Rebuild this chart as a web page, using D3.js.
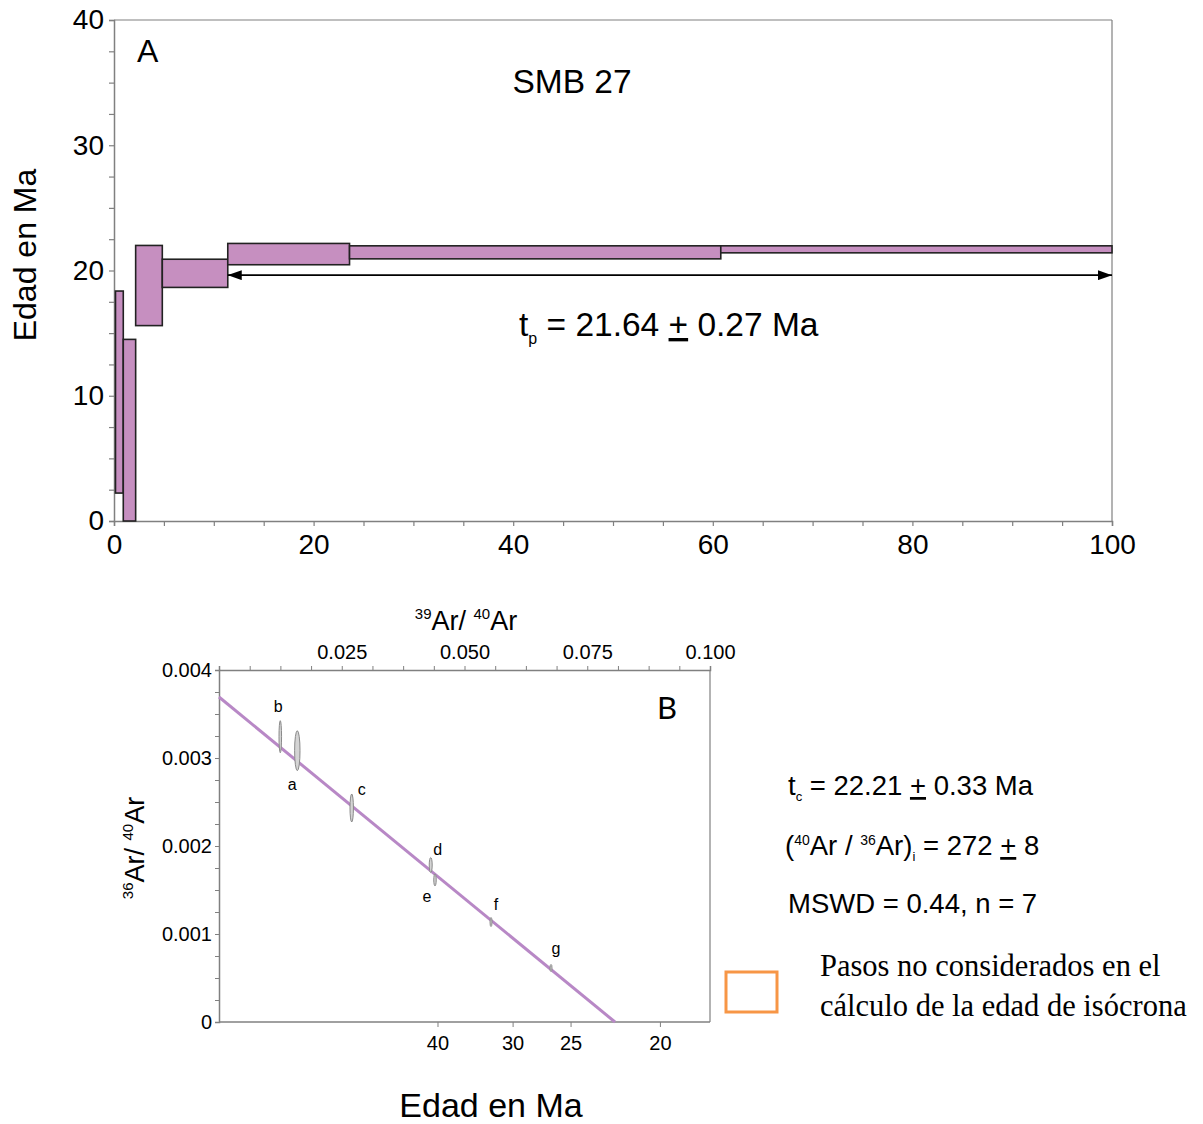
<!DOCTYPE html>
<html>
<head>
<meta charset="utf-8">
<script src="https://cdn.jsdelivr.net/npm/d3@7"></script>
<style>
  html, body { margin: 0; padding: 0; background: #fff; }
  svg { display: block; }
  text { font-family: "Liberation Sans", Arial, sans-serif; fill: #000; }
</style>
</head>
<body>
<svg id="chart" width="1203" height="1124"></svg>
<script>
// ---------- Data: panel A (age spectrum) ----------
const stepEdges = [0.15, 0.93, 2.17, 4.84, 11.4, 23.6, 60.8, 100];   // cumulative %39Ar
const stepLow   = [2.23, 0, 15.6, 18.65, 20.46, 20.93, 21.41];          // Ma
const stepHigh  = [18.36, 14.5, 22.0, 20.9, 22.16, 21.97, 21.97];       // Ma
const plateauRange = [11.4, 100];
const plateauArrowAge = 19.63;
const ageTicksA = [0, 10, 20, 30, 40];
const xTicksA = [0, 20, 40, 60, 80, 100];

// ---------- Data: panel B (isochron) ----------
const isoLabels = ["b", "a", "c", "d", "e", "f", "g"];
const isoX  = [0.01248, 0.01595, 0.02703, 0.04312, 0.04399, 0.0554, 0.06762];  // 39Ar/40Ar
const isoY  = [0.003242, 0.003083, 0.002432, 0.001784, 0.001614, 0.001136, 0.000614]; // 36Ar/40Ar
const isoSx = [0.00026, 0.00055, 0.00035, 0.0003, 0.00025, 0.0002, 0.0002];
const isoSy = [0.000182, 0.000227, 0.000159, 0.0000852, 0.0000682, 0.000051, 0.00004];
const isochronYIntercept = 0.003693;
const isochronXIntercept = 0.08065;
const topTicksB = [0.025, 0.050, 0.075, 0.100];
const leftTicksB = [0, 0.001, 0.002, 0.003, 0.004];
const ageTickLabelsB = ["40", "30", "25", "20"];
const ageTickPosB = [0.0446, 0.0599, 0.0717, 0.0899];

// ---------- Layout (not data) ----------
const labelOffsets = { b: [-2, -30], a: [-5, 34], c: [10, -19], d: [7, -16], e: [-8, 16], f: [5, -18], g: [5, -20] };
const purple = "#c68fc0";
const axisGray = "#808080";

const svg = d3.select("#chart");

// ================= PANEL A =================
const A = { left: 114, right: 1112, top: 20, bottom: 521 };
const xA = d3.scaleLinear().domain([0, 100]).range([A.left, A.right]);
const yA = d3.scaleLinear().domain([0, 40]).range([A.bottom, A.top]);
const gA = svg.append("g");

gA.append("line").attr("x1", A.left).attr("x2", A.right).attr("y1", A.top).attr("y2", A.top).attr("stroke", axisGray).attr("stroke-width", 1.2);
gA.append("line").attr("x1", A.right).attr("x2", A.right).attr("y1", A.top).attr("y2", A.bottom).attr("stroke", axisGray).attr("stroke-width", 1.2);

const yAxisA = d3.axisLeft(yA).tickValues(d3.range(0, 40.01, 2.5)).tickSize(5).tickFormat(d => ageTicksA.includes(d) ? d : "");
const yAxA = gA.append("g").attr("transform", `translate(${A.left},0)`).call(yAxisA);
const xAxisA = d3.axisBottom(xA).tickValues(d3.range(0, 100.01, 5)).tickSize(5).tickFormat(d => xTicksA.includes(d) ? d : "");
const xAxA = gA.append("g").attr("transform", `translate(0,${A.bottom})`).call(xAxisA);
[yAxA, xAxA].forEach(ax => {
  ax.select(".domain").attr("stroke", axisGray).attr("stroke-width", 1.5);
  ax.selectAll(".tick line").attr("stroke", axisGray).attr("stroke-width", 1.2);
  ax.selectAll(".tick text").style("font-family", "Liberation Sans, Arial, sans-serif").style("font-size", "28px").attr("fill", "#000");
});
yAxA.selectAll(".tick text").attr("x", -10);
xAxA.selectAll(".tick text").attr("y", 13);

const stepIdx = d3.range(stepLow.length);
gA.append("g").selectAll("rect").data(stepIdx).join("rect")
  .attr("x", i => xA(stepEdges[i]))
  .attr("width", i => xA(stepEdges[i + 1]) - xA(stepEdges[i]))
  .attr("y", i => yA(stepHigh[i]))
  .attr("height", i => yA(stepLow[i]) - yA(stepHigh[i]))
  .attr("fill", purple).attr("stroke", "#222").attr("stroke-width", 1.6);

const defs = svg.append("defs");
defs.append("marker").attr("id", "arrEnd").attr("viewBox", "0 0 14 10").attr("refX", 14).attr("refY", 5)
  .attr("markerWidth", 14).attr("markerHeight", 10).attr("markerUnits", "userSpaceOnUse").attr("orient", "auto")
  .append("path").attr("d", "M0,0 L14,5 L0,10 Z").attr("fill", "#000");
defs.append("marker").attr("id", "arrStart").attr("viewBox", "0 0 14 10").attr("refX", 0).attr("refY", 5)
  .attr("markerWidth", 14).attr("markerHeight", 10).attr("markerUnits", "userSpaceOnUse").attr("orient", "auto")
  .append("path").attr("d", "M14,0 L0,5 L14,10 Z").attr("fill", "#000");
gA.append("line")
  .attr("x1", xA(plateauRange[0])).attr("x2", xA(plateauRange[1]))
  .attr("y1", yA(plateauArrowAge)).attr("y2", yA(plateauArrowAge))
  .attr("stroke", "#000").attr("stroke-width", 1.8)
  .attr("marker-start", "url(#arrStart)").attr("marker-end", "url(#arrEnd)");

gA.append("text").attr("x", 137).attr("y", 62).style("font-size", "32px").text("A");
gA.append("text").attr("x", 572).attr("y", 93).attr("text-anchor", "middle").style("font-size", "33.5px").text("SMB 27");
const tp = gA.append("text").attr("x", 519).attr("y", 336).style("font-size", "33.5px");
tp.append("tspan").text("t");
tp.append("tspan").attr("dy", 8).style("font-size", "16px").text("p");
tp.append("tspan").attr("dy", -8).text(" = 21.64 ");
tp.append("tspan").style("text-decoration", "underline").text("+");
tp.append("tspan").text(" 0.27 Ma");
gA.append("text").attr("transform", "translate(36,255) rotate(-90)").attr("text-anchor", "middle").style("font-size", "32px").text("Edad en Ma");

// ================= PANEL B =================
const B = { left: 219, right: 710, top: 670, bottom: 1022 };
const xB = d3.scaleLinear().domain([0, 0.1]).range([B.left, B.right]);
const yB = d3.scaleLinear().domain([0, 0.004]).range([B.bottom, B.top]);
const gB = svg.append("g");

gB.append("line").attr("x1", B.right).attr("x2", B.right).attr("y1", B.top).attr("y2", B.bottom).attr("stroke", axisGray).attr("stroke-width", 1.2);
gB.append("line").attr("x1", B.left).attr("x2", B.right).attr("y1", B.bottom).attr("y2", B.bottom).attr("stroke", axisGray).attr("stroke-width", 1.5);

const fmtB = d => leftTicksB.some(t => Math.abs(t - d) < 1e-9) ? (d === 0 ? "0" : d3.format(".3f")(d)) : "";
const yAxisB = d3.axisLeft(yB).tickValues(d3.range(0, 0.004001, 0.00025)).tickSize(4).tickFormat(fmtB);
const yAxB = gB.append("g").attr("transform", `translate(${B.left},0)`).call(yAxisB);
const topAxisB = d3.axisTop(xB).tickValues(d3.range(0, 0.100001, 0.00625)).tickSize(4)
  .tickFormat(d => topTicksB.some(t => Math.abs(t - d) < 1e-9) ? d3.format(".3f")(d) : "");
const topAxB = gB.append("g").attr("transform", `translate(0,${B.top})`).call(topAxisB);
[yAxB, topAxB].forEach(ax => {
  ax.select(".domain").attr("stroke", axisGray).attr("stroke-width", 1.5);
  ax.selectAll(".tick line").attr("stroke", axisGray).attr("stroke-width", 1);
  ax.selectAll(".tick text").style("font-family", "Liberation Sans, Arial, sans-serif").style("font-size", "20px").attr("fill", "#000");
});
yAxB.selectAll(".tick text").attr("x", -7);
topAxB.selectAll(".tick text").attr("y", -11);

const ageG = gB.append("g");
ageG.selectAll("line").data(ageTickPosB).join("line")
  .attr("x1", d => xB(d)).attr("x2", d => xB(d)).attr("y1", B.bottom).attr("y2", B.bottom + 5)
  .attr("stroke", axisGray).attr("stroke-width", 1);
ageG.selectAll("text").data(ageTickPosB).join("text")
  .attr("x", d => xB(d)).attr("y", B.bottom + 28).attr("text-anchor", "middle").style("font-size", "20px")
  .text((d, i) => ageTickLabelsB[i]);

gB.append("line")
  .attr("x1", xB(0)).attr("y1", yB(isochronYIntercept))
  .attr("x2", xB(isochronXIntercept)).attr("y2", yB(0))
  .attr("stroke", "#b888c6").attr("stroke-width", 3);

const isoIdx = d3.range(isoLabels.length);
gB.append("g").selectAll("ellipse").data(isoIdx).join("ellipse")
  .attr("cx", i => xB(isoX[i])).attr("cy", i => yB(isoY[i]))
  .attr("rx", i => xB(isoSx[i]) - xB(0)).attr("ry", i => yB(0) - yB(isoSy[i]))
  .attr("fill", "#d4d4d4").attr("stroke", "#8a8a8a").attr("stroke-width", 1);
gB.append("g").selectAll("text").data(isoIdx).join("text")
  .attr("x", i => xB(isoX[i]) + labelOffsets[isoLabels[i]][0])
  .attr("y", i => yB(isoY[i]) + labelOffsets[isoLabels[i]][1])
  .attr("dy", "0.35em").attr("text-anchor", "middle").style("font-size", "16px")
  .text(i => isoLabels[i]);

gB.append("text").attr("x", 667).attr("y", 719).attr("text-anchor", "middle")
  .style("font-family", "Lato, 'Open Sans', sans-serif").style("font-size", "31px").text("B");

const topTitle = gB.append("text").attr("x", 466).attr("y", 630).attr("text-anchor", "middle").style("font-size", "27px");
topTitle.append("tspan").attr("dy", -11).style("font-size", "15px").text("39");
topTitle.append("tspan").attr("dy", 11).text("Ar/ ");
topTitle.append("tspan").attr("dy", -11).style("font-size", "15px").text("40");
topTitle.append("tspan").attr("dy", 11).text("Ar");

const leftTitle = gB.append("text").attr("transform", "translate(144,848) rotate(-90)").attr("text-anchor", "middle").style("font-size", "27px");
leftTitle.append("tspan").attr("dy", -11).style("font-size", "15px").text("36");
leftTitle.append("tspan").attr("dy", 11).text("Ar/ ");
leftTitle.append("tspan").attr("dy", -11).style("font-size", "15px").text("40");
leftTitle.append("tspan").attr("dy", 11).text("Ar");

gB.append("text").attr("x", 491).attr("y", 1117).attr("text-anchor", "middle").style("font-size", "34px").text("Edad en Ma");

// ================= Right-side annotations =================
const gR = svg.append("g");
const t1 = gR.append("text").attr("x", 788).attr("y", 795).style("font-size", "27.5px");
t1.append("tspan").text("t");
t1.append("tspan").attr("dy", 6).style("font-size", "13px").text("c");
t1.append("tspan").attr("dy", -6).text(" = 22.21 ");
t1.append("tspan").style("text-decoration", "underline").text("+");
t1.append("tspan").text(" 0.33 Ma");

const t2 = gR.append("text").attr("x", 785).attr("y", 855).style("font-size", "27.5px");
t2.append("tspan").text("(");
t2.append("tspan").attr("dy", -10).style("font-size", "14px").text("40");
t2.append("tspan").attr("dy", 10).text("Ar / ");
t2.append("tspan").attr("dy", -10).style("font-size", "14px").text("36");
t2.append("tspan").attr("dy", 10).text("Ar)");
t2.append("tspan").attr("dy", 6).style("font-size", "13px").text("i");
t2.append("tspan").attr("dy", -6).text(" = 272 ");
t2.append("tspan").style("text-decoration", "underline").text("+");
t2.append("tspan").text(" 8");

gR.append("text").attr("x", 788).attr("y", 913).style("font-size", "27.5px").text("MSWD = 0.44, n = 7");

gR.append("rect").attr("x", 726).attr("y", 972).attr("width", 51).attr("height", 40)
  .attr("fill", "none").attr("stroke", "#f79646").attr("stroke-width", 3);
gR.append("text").attr("x", 820).attr("y", 976).style("font-family", "Liberation Serif, 'DejaVu Serif', serif").style("font-size", "30.5px").text("Pasos no considerados en el");
gR.append("text").attr("x", 820).attr("y", 1016).style("font-family", "Liberation Serif, 'DejaVu Serif', serif").style("font-size", "30.5px").text("cálculo de la edad de isócrona");
</script>
</body>
</html>
